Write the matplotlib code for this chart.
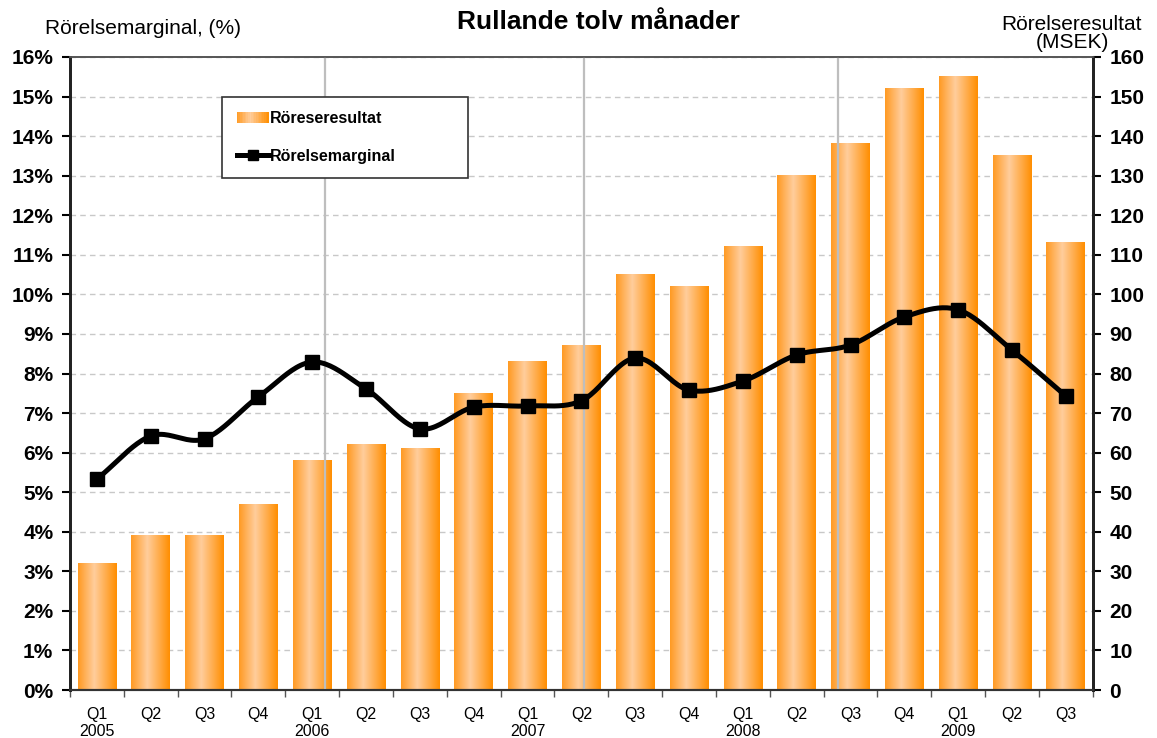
import numpy as np
import matplotlib
matplotlib.use('Agg')
import matplotlib.pyplot as plt
from matplotlib.colors import LinearSegmentedColormap
from matplotlib.legend_handler import HandlerBase
from matplotlib.patches import Rectangle
from matplotlib.lines import Line2D

plt.rcParams['font.family'] = ['Liberation Sans', 'DejaVu Sans']

# data
kvartal = ['Q1\n2005', 'Q2', 'Q3', 'Q4', 'Q1\n2006', 'Q2', 'Q3', 'Q4', 'Q1\n2007', 'Q2',
           'Q3', 'Q4', 'Q1\n2008', 'Q2', 'Q3', 'Q4', 'Q1\n2009', 'Q2', 'Q3']
resultat = [32, 39, 39, 47, 58, 62, 61, 75, 83, 87, 105, 102, 112, 130, 138, 152, 155, 135, 113]
marginal = [5.33, 6.42, 6.35, 7.41, 8.29, 7.61, 6.60, 7.15, 7.18, 7.31,
            8.39, 7.58, 7.81, 8.47, 8.72, 9.43, 9.61, 8.59, 7.43]
# gra vertikala linjer (positioner i kategori-enheter)
vlinjer = [4.24, 9.04, 13.77]

cmap = LinearSegmentedColormap.from_list(
    'stapel', [(0, '#FF9A22'), (0.42, '#FFCD9C'), (1, '#FF8E00')])
grad = np.linspace(0, 1, 256).reshape(1, -1)


def smooth(x, y, n=24):
    # catmull-rom kurva genom punkterna (som excels utjamnade linje)
    x = np.asarray(x, float)
    y = np.asarray(y, float)
    px = np.concatenate([[2 * x[0] - x[1]], x, [2 * x[-1] - x[-2]]])
    py = np.concatenate([[2 * y[0] - y[1]], y, [2 * y[-1] - y[-2]]])
    xs, ys = [], []
    t = np.linspace(0, 1, n, endpoint=False)
    for i in range(1, len(px) - 2):
        for p, out in ((px, xs), (py, ys)):
            p0, p1, p2, p3 = p[i - 1], p[i], p[i + 1], p[i + 2]
            out.extend(0.5 * (2 * p1 + (-p0 + p2) * t + (2 * p0 - 5 * p1 + 4 * p2 - p3) * t ** 2
                              + (-p0 + 3 * p1 - 3 * p2 + p3) * t ** 3))
    xs.append(x[-1])
    ys.append(y[-1])
    return np.array(xs), np.array(ys)


class GradHandler(HandlerBase):
    def create_artists(self, legend, orig, xd, yd, w, h, fontsize, trans):
        arts = []
        n = 20
        for k in range(n):
            r = Rectangle((xd + w * k / n, yd), w / n + 0.3, h,
                          facecolor=cmap((k + 0.5) / n), edgecolor='none', transform=trans)
            arts.append(r)
        return arts


fig = plt.figure(figsize=(11.57, 7.38), dpi=100)
ax = fig.add_axes([0.0605, 0.065, 0.884, 0.8578])
ax2 = ax.twinx()
x = np.arange(len(kvartal))
w = 0.72

# staplar (hoger axel)
for i, v in enumerate(resultat):
    ax.imshow(grad, cmap=cmap, extent=[i - w / 2, i + w / 2, 0, v], aspect='auto', zorder=2)
ax.set_xlim(-0.5, len(kvartal) - 0.5)
ax.set_ylim(0, 160)
ax.set_yticks(np.arange(0, 161, 10))
ax.grid(axis='y', linestyle=(0, (4, 3)), color='#C8C8C8', linewidth=1, zorder=0)
ax.set_axisbelow(True)
for xv in vlinjer:
    ax.axvline(xv, color='#BEBEBE', linewidth=1.6, zorder=3)

ax.set_xticks(x)
ax.set_xticklabels(kvartal, fontsize=11.5)
ax.set_xticks(np.arange(-0.5, len(kvartal), 1), minor=True)
ax.tick_params(axis='x', which='major', length=0, pad=12)
ax.tick_params(axis='x', which='minor', length=5, width=1, color='#555555')

# linje (vanster axel)
ax2.set_ylim(0, 16)
ax2.set_yticks(np.arange(0, 17, 1))
ax2.set_yticklabels([f'{v}%' for v in range(17)])
ax.yaxis.tick_right()
ax2.yaxis.tick_left()
for a in (ax, ax2):
    a.tick_params(axis='y', length=6, width=1.5, labelsize=15, pad=6)
    for lab in a.get_yticklabels():
        lab.set_fontweight('bold')
sx, sy = smooth(x, marginal)
ax2.plot(sx, sy, color='black', linewidth=3.6, zorder=4, solid_capstyle='round')
ax2.plot(x, marginal, linestyle='none', marker='s', markersize=10.5, color='black', zorder=5)

for a in (ax, ax2):
    a.spines['left'].set_linewidth(2)
    a.spines['left'].set_color('#222222')
    a.spines['right'].set_linewidth(2)
    a.spines['right'].set_color('#222222')
    a.spines['bottom'].set_linewidth(1.5)
    a.spines['bottom'].set_color('#333333')
    a.spines['top'].set_linewidth(1.2)
    a.spines['top'].set_color('#555555')

# legend
h_bar = Rectangle((0, 0), 1, 1)
h_line = Line2D([], [], color='black', linewidth=3.6, marker='s', markersize=7)
leg = ax2.legend([h_bar, h_line], ['Röreseresultat', 'Rörelsemarginal'],
                 handler_map={Rectangle: GradHandler()},
                 loc='upper left', bbox_to_anchor=(0.149, 0.937, 0.24, 0.0),
                 mode='expand', borderaxespad=0, fancybox=False, framealpha=1,
                 edgecolor='#333333', prop={'weight': 'bold', 'size': 11.5},
                 handlelength=2.0, handletextpad=0.1, labelspacing=1.4,
                 borderpad=0.9)
leg.get_frame().set_linewidth(1.2)
leg.set_zorder(6)

fig.text(0.517, 0.97, 'Rullande tolv månader', ha='center', va='center',
         fontsize=19, fontweight='bold')
fig.text(0.039, 0.962, 'Rörelsemarginal, (%)', ha='left', va='center', fontsize=15)
fig.text(0.9265, 0.955, 'Rörelseresultat\n(MSEK)', ha='center', va='center',
         fontsize=15, multialignment='center', linespacing=0.95)

fig.savefig('out.png', dpi=100)
